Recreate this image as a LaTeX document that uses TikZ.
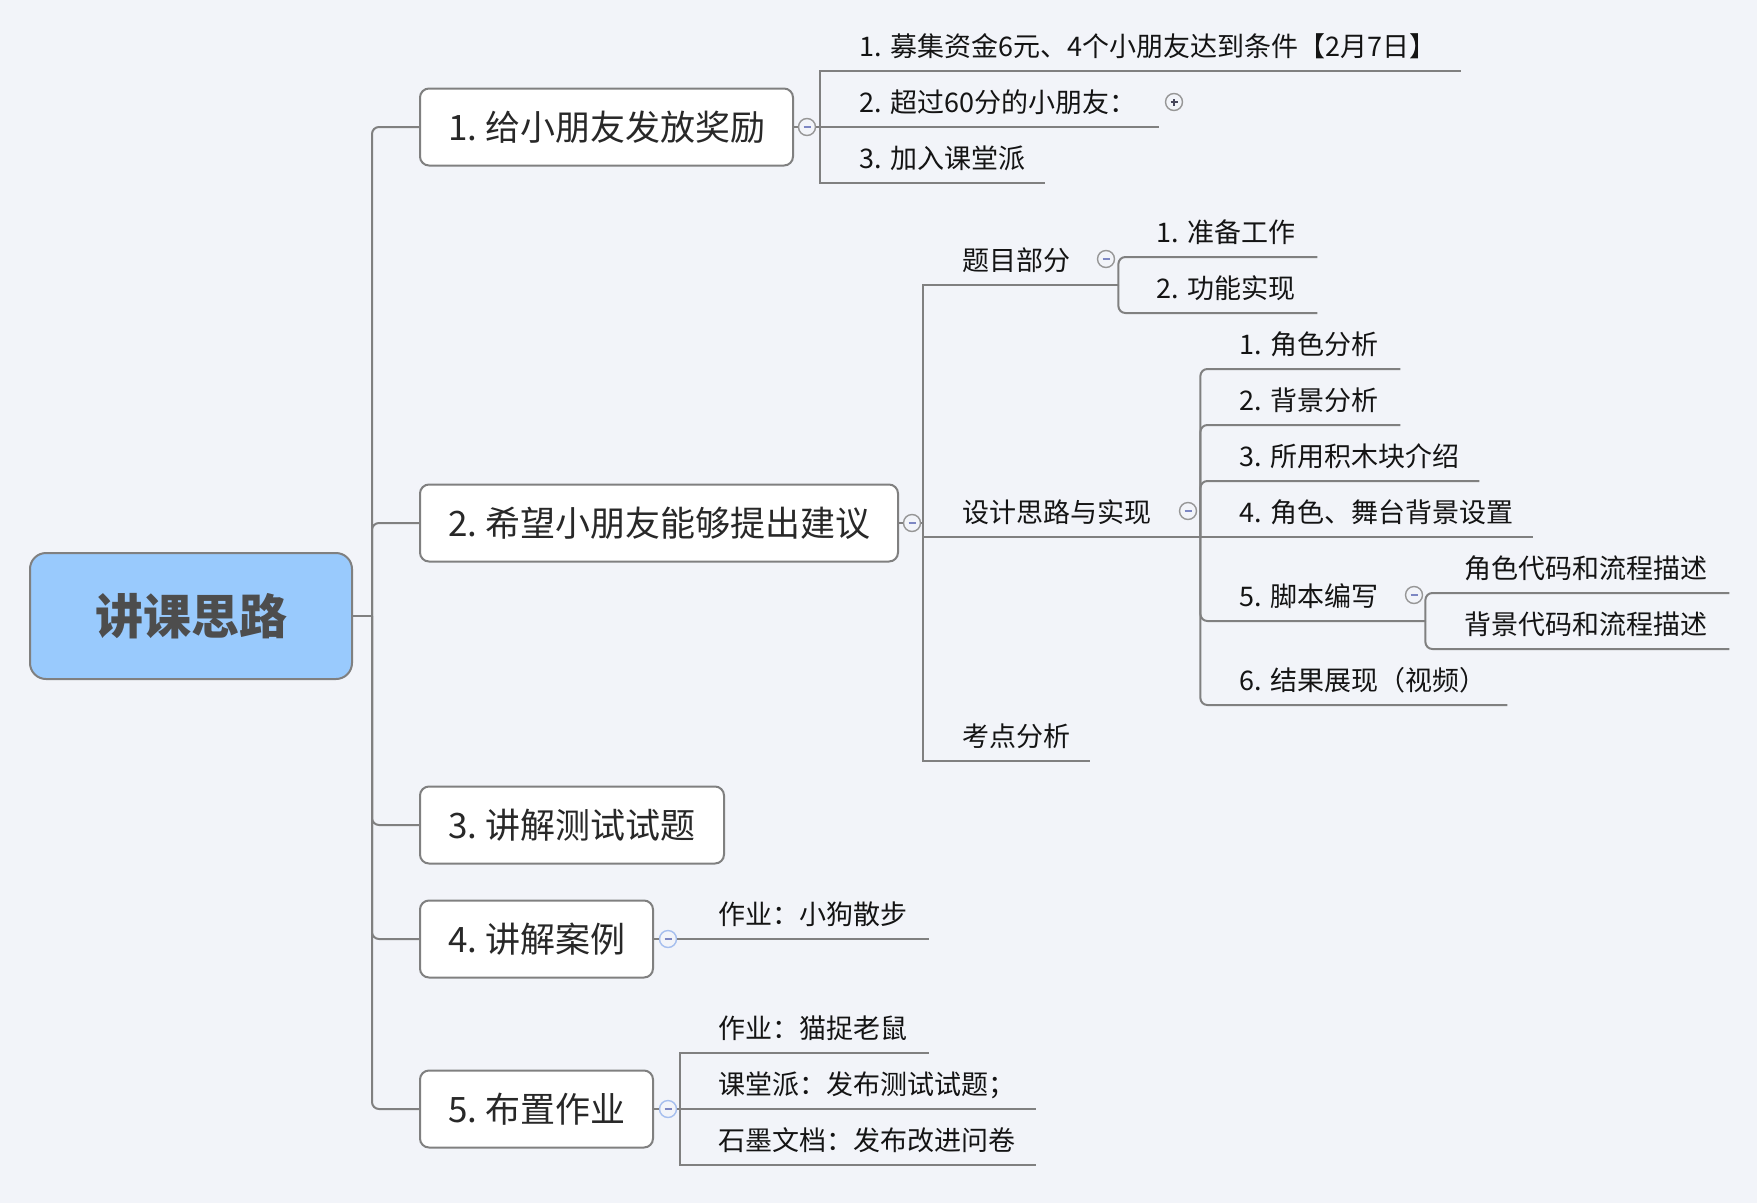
\documentclass[tikz,border=0pt]{standalone}
\usepackage{fontspec}
\setmainfont{Noto Sans CJK SC}
\frenchspacing
\definecolor{bg}{RGB}{242,244,249}
\definecolor{linegray}{RGB}{128,128,128}
\definecolor{boxgray}{RGB}{128,128,128}
\definecolor{rootfill}{RGB}{153,202,253}
\definecolor{roottext}{RGB}{77,77,77}
\definecolor{txtdark}{RGB}{40,40,40}
\definecolor{txtblack}{RGB}{20,20,20}
\definecolor{toggray}{RGB}{150,150,150}
\definecolor{togblue}{RGB}{165,190,238}
\definecolor{minusblue}{RGB}{125,135,195}
\definecolor{plusdark}{RGB}{70,70,90}
\begin{document}
\begin{tikzpicture}[x=1pt,y=-1pt,
  conn/.style={draw=linegray, line width=2pt},
  rconn/.style={conn, rounded corners=7pt},
  central/.style={draw=boxgray, line width=2pt, fill=rootfill, rounded corners=16pt,
    minimum width=322pt, minimum height=126pt, inner sep=0pt,
    font=\fontsize{48}{54}\selectfont\bfseries, text=roottext},
  mainbox/.style={draw=boxgray, line width=2pt, fill=white, rounded corners=9pt,
    minimum height=77pt, inner sep=0pt,
    font=\fontsize{35}{40}\selectfont\frenchspacing, text=txtdark},
  leaf/.style={anchor=south west, inner xsep=0pt, inner ysep=0pt,
    text height=24pt, text depth=14pt, align=left,
    font=\fontsize{27}{32}\selectfont\frenchspacing, text=txtblack},
  tog/.style={circle, draw=toggray, line width=1.4pt, fill=bg, minimum size=17pt, inner sep=0pt,
    path picture={\draw[minusblue, line width=1.6pt]
      ([xshift=-3.5pt]path picture bounding box.center) -- ([xshift=3.5pt]path picture bounding box.center);}},
  togb/.style={tog, draw=togblue},
  togplus/.style={circle, draw=toggray, line width=1.4pt, fill=bg, minimum size=17pt, inner sep=0pt,
    path picture={\draw[plusdark, line width=1.6pt]
      ([xshift=-3.5pt]path picture bounding box.center) -- ([xshift=3.5pt]path picture bounding box.center)
      ([yshift=-3.5pt]path picture bounding box.center) -- ([yshift=3.5pt]path picture bounding box.center);}}
]
\fill[bg] (0,0) rectangle (1757,1203);

% root and trunk
\node[central] (root) at (191,616) {讲课思路};
\coordinate (trunk) at (372,616);

\node[mainbox, minimum width=373pt] (b1) at (606.5,127) {1. 给小朋友发放奖励};
\node[mainbox, minimum width=478pt] (b2) at (659,523) {2. 希望小朋友能够提出建议};
\node[mainbox, minimum width=304pt] (b3) at (572,825) {3. 讲解测试试题};
\node[mainbox, minimum width=233pt] (b4) at (536.5,939) {4. 讲解案例};
\node[mainbox, minimum width=233pt] (b5) at (536.5,1109) {5. 布置作业};

\draw[conn] (root.east) -- (trunk);
\foreach \b in {b1,b2,b3,b4,b5} \draw[rconn] (trunk) |- (\b.west);

% branch 1
\node[tog] (t1) at (807,127) {};
\coordinate (j1) at (820,127);
\node[leaf, text width=602pt] (l11) at (859,71) {1. 募集资金6元、4个小朋友达到条件【2月7日】};
\node[leaf, text width=300pt] (l12) at (859,127) {2. 超过60分的小朋友：};
\node[leaf, text width=186pt] (l13) at (859,183) {3. 加入课堂派};
\node[togplus] (p12) at (1174,102) {};
\draw[conn] (b1.east) -- (t1.west);
\draw[conn] (t1.east) -- (j1);
\draw[conn] (j1) |- (l11.south east);
\draw[conn] (j1) -- (l12.south east);
\draw[conn] (j1) |- (l13.south east);

% branch 2
\node[tog] (t2) at (912,523) {};
\coordinate (j2) at (923,523);
\node[leaf, text width=156pt] (l21) at (962,285) {题目部分};
\node[leaf, text width=238pt] (l22) at (962,537) {设计思路与实现};
\node[leaf, text width=128pt] (l23) at (962,761) {考点分析};
\draw[conn] (b2.east) -- (t2.west);
\draw[conn] (t2.east) -- (j2);
\draw[conn] (j2) |- (l21.south east);
\draw[conn] (j2) |- (l22.south east);
\draw[conn] (j2) |- (l23.south east);

\node[tog] (t21) at (1106,259) {};
\node[leaf, text width=161pt] (l211) at (1156,257) {1. 准备工作};
\node[leaf, text width=161pt] (l212) at (1156,313) {2. 功能实现};
\draw[rconn] (l21.south east) |- (l211.south east);
\draw[rconn] (l21.south east) |- (l212.south east);

\node[tog] (t22) at (1188,511) {};
\node[leaf, text width=161pt] (l221) at (1239,369) {1. 角色分析};
\node[leaf, text width=161pt] (l222) at (1239,425) {2. 背景分析};
\node[leaf, text width=240pt] (l223) at (1239,481) {3. 所用积木块介绍};
\node[leaf, text width=294pt] (l224) at (1239,537) {4. 角色、舞台背景设置};
\node[leaf, text width=186pt] (l225) at (1239,621) {5. 脚本编写};
\node[leaf, text width=268pt] (l226) at (1239,705) {6. 结果展现（视频）};
\draw[rconn] (l22.south east) |- (l221.south east);
\draw[rconn] (l22.south east) |- (l222.south east);
\draw[rconn] (l22.south east) |- (l223.south east);
\draw[conn] (l22.south east) -- (l224.south east);
\draw[rconn] (l22.south east) |- (l225.south east);
\draw[rconn] (l22.south east) |- (l226.south east);

\node[tog] (t225) at (1414,595) {};
\node[leaf, text width=265pt] (l2251) at (1464,593) {角色代码和流程描述};
\node[leaf, text width=265pt] (l2252) at (1464,649) {背景代码和流程描述};
\draw[rconn] (l225.south east) |- (l2251.south east);
\draw[rconn] (l225.south east) |- (l2252.south east);

% branch 4
\node[togb] (t4) at (668,939) {};
\node[leaf, text width=211pt] (l41) at (718,939) {作业：小狗散步};
\draw[conn] (b4.east) -- (t4.west);
\draw[conn] (t4.east) -- (l41.south east);

% branch 5
\node[togb] (t5) at (668,1109) {};
\coordinate (j5) at (680,1109);
\node[leaf, text width=211pt] (l51) at (718,1053) {作业：猫捉老鼠};
\node[leaf, text width=318pt] (l52) at (718,1109) {课堂派：发布测试试题；};
\node[leaf, text width=318pt] (l53) at (718,1165) {石墨文档：发布改进问卷};
\draw[conn] (b5.east) -- (t5.west);
\draw[conn] (t5.east) -- (j5);
\draw[conn] (j5) |- (l51.south east);
\draw[conn] (j5) -- (l52.south east);
\draw[conn] (j5) |- (l53.south east);
\end{tikzpicture}
\end{document}
